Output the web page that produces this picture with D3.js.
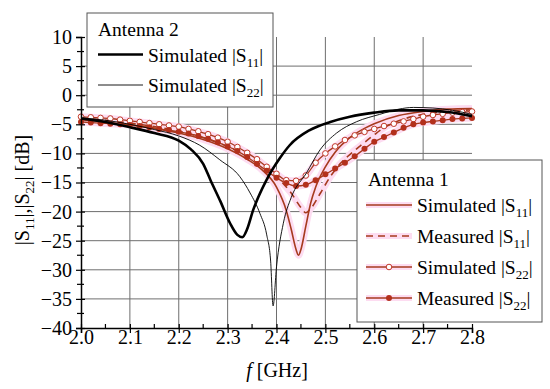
<!DOCTYPE html>
<html>
<head>
<meta charset="utf-8">
<script src="https://cdn.jsdelivr.net/npm/d3@7"></script>
<style>
  body { margin: 0; background: #fff; }
  text { font-family: "Liberation Serif", "Times New Roman", serif; fill: #000; }
</style>
</head>
<body>
<svg id="chart" width="550" height="389"></svg>
<script>
// ----- data -----
const xTicks = [2.0, 2.1, 2.2, 2.3, 2.4, 2.5, 2.6, 2.7, 2.8];
const yTicks = [10, 5, 0, -5, -10, -15, -20, -25, -30, -35, -40];

// Antenna 2, simulated |S11| (thick black)
const a2s11F = [2.00, 2.05, 2.10, 2.15, 2.20, 2.225, 2.25, 2.265, 2.285, 2.305, 2.32, 2.33, 2.34, 2.352, 2.38, 2.407, 2.427, 2.468, 2.51, 2.55, 2.60, 2.65, 2.70, 2.75, 2.80];
const a2s11 = [-4.0, -4.6, -5.5, -6.5, -7.8, -9.3, -11.8, -14.6, -18.2, -22.0, -24.0, -24.4, -23.0, -19.8, -14.5, -10.8, -8.6, -6.0, -4.6, -3.7, -3.0, -2.6, -2.6, -2.9, -3.6];

// Antenna 2, simulated |S22| (thin black)
const a2s22F = [2.00, 2.05, 2.10, 2.15, 2.20, 2.243, 2.284, 2.325, 2.346, 2.366, 2.38, 2.388, 2.393, 2.40, 2.414, 2.43, 2.461, 2.489, 2.523, 2.564, 2.611, 2.65, 2.68, 2.72, 2.76, 2.80];
const a2s22 = [-3.9, -4.3, -5.0, -5.9, -7.0, -8.6, -11.1, -14.0, -16.8, -20.3, -24.0, -28.5, -36.2, -29.5, -22.0, -17.6, -13.4, -9.4, -6.5, -4.55, -3.3, -2.4, -2.1, -2.2, -2.6, -3.3];

// Antenna 1, simulated |S11| (solid red)
const a1s11F = [2.00, 2.05, 2.10, 2.15, 2.20, 2.25, 2.30, 2.34, 2.37, 2.40, 2.42, 2.43, 2.44, 2.445, 2.45, 2.46, 2.47, 2.48, 2.50, 2.52, 2.55, 2.58, 2.60, 2.65, 2.70, 2.75, 2.80];
const a1s11 = [-4.2, -4.6, -5.1, -5.7, -6.5, -7.6, -9.2, -11.0, -12.8, -15.8, -19.8, -23.0, -26.5, -27.5, -26.5, -22.5, -18.5, -15.8, -12.3, -9.8, -7.3, -5.7, -4.9, -3.5, -2.8, -2.4, -2.3];

// Antenna 1, measured |S11| (dashed red)
const a1m11F = [2.00, 2.05, 2.10, 2.15, 2.20, 2.25, 2.30, 2.35, 2.40, 2.43, 2.45, 2.46, 2.47, 2.49, 2.51, 2.53, 2.55, 2.57, 2.60, 2.62, 2.65, 2.70, 2.75, 2.80];
const a1m11 = [-4.0, -4.3, -4.8, -5.4, -6.2, -7.3, -8.8, -11.0, -14.0, -16.8, -19.3, -20.2, -19.5, -16.8, -14.0, -11.8, -10.2, -8.8, -6.8, -5.6, -4.4, -3.3, -2.8, -2.5];

// Antenna 1, |S22| curves sampled every 0.02 GHz (markers)
const s22F = [2.00, 2.02, 2.04, 2.06, 2.08, 2.10, 2.12, 2.14, 2.16, 2.18, 2.20, 2.22, 2.24, 2.26, 2.28, 2.30, 2.32, 2.34, 2.36, 2.38, 2.40, 2.42, 2.44, 2.46, 2.48, 2.50, 2.52, 2.54, 2.56, 2.58, 2.60, 2.62, 2.64, 2.66, 2.68, 2.70, 2.72, 2.74, 2.76, 2.78, 2.80];
const a1s22 = [-3.7, -3.8, -3.9, -4.0, -4.2, -4.4, -4.6, -4.8, -5.0, -5.2, -5.4, -5.8, -6.2, -6.7, -7.3, -8.0, -8.9, -9.9, -11.0, -12.3, -13.5, -14.6, -14.7, -13.8, -11.6, -10.0, -8.8, -7.7, -6.9, -6.3, -5.8, -5.3, -4.9, -4.5, -4.1, -3.7, -3.4, -3.2, -3.0, -2.9, -2.8];
const a1m22 = [-4.6, -4.7, -4.8, -4.9, -5.0, -5.1, -5.3, -5.5, -5.8, -6.0, -6.3, -6.6, -7.0, -7.5, -8.1, -8.8, -9.6, -10.6, -11.8, -13.0, -14.2, -15.1, -15.6, -15.4, -14.6, -13.6, -12.6, -11.6, -10.5, -9.2, -8.0, -7.2, -6.4, -5.6, -5.0, -4.7, -4.5, -4.3, -4.1, -4.0, -3.9];

// ----- layout -----
const svg = d3.select("#chart");
const x = d3.scaleLinear().domain([2.0, 2.8]).range([81, 472]);
const y = d3.scaleLinear().domain([-40, 10]).range([328, 37]);
const red = "#a63a1e";
const halo = "#fddcf1";
const fs = 20;

const zip = (fs, vs) => fs.map((f, i) => ({ f: f, v: vs[i] }));
const line = d3.line().x(d => x(d.f)).y(d => y(d.v)).curve(d3.curveMonotoneX);

// Grid
const grid = svg.append("g").attr("stroke", "#6e6e6e").attr("stroke-width", 1);
grid.selectAll("line.v")
    .data(xTicks.slice(1, -1))
    .enter().append("line")
    .attr("x1", d => x(d)).attr("x2", d => x(d))
    .attr("y1", y(10)).attr("y2", y(-40));
grid.selectAll("line.h")
    .data(yTicks.slice(1, -1))
    .enter().append("line")
    .attr("x1", x(2.0)).attr("x2", x(2.8))
    .attr("y1", d => y(d)).attr("y2", d => y(d));

// Pink halo under Antenna 1 curves
const redSeries = [zip(a1s11F, a1s11), zip(a1m11F, a1m11), zip(s22F, a1s22), zip(s22F, a1m22)];
svg.append("g")
    .selectAll("path")
    .data(redSeries)
    .enter().append("path")
    .attr("d", line)
    .attr("fill", "none")
    .attr("stroke", halo)
    .attr("stroke-width", 7)
    .attr("stroke-linejoin", "round");

// Antenna 1 curves
svg.append("path").attr("d", line(zip(a1s11F, a1s11)))
    .attr("fill", "none").attr("stroke", red).attr("stroke-width", 1.6);
svg.append("path").attr("d", line(zip(a1m11F, a1m11)))
    .attr("fill", "none").attr("stroke", red).attr("stroke-width", 1.6)
    .attr("stroke-dasharray", "7,5");
svg.append("path").attr("d", line(zip(s22F, a1s22)))
    .attr("fill", "none").attr("stroke", red).attr("stroke-width", 1.3);
svg.append("path").attr("d", line(zip(s22F, a1m22)))
    .attr("fill", "none").attr("stroke", red).attr("stroke-width", 1.3);

svg.append("g").selectAll("circle")
    .data(zip(s22F, a1s22))
    .enter().append("circle")
    .attr("cx", d => x(d.f)).attr("cy", d => y(d.v)).attr("r", 2.8)
    .attr("fill", "#fff").attr("stroke", "#c0392b").attr("stroke-width", 1);
svg.append("g").selectAll("circle")
    .data(zip(s22F, a1m22))
    .enter().append("circle")
    .attr("cx", d => x(d.f)).attr("cy", d => y(d.v)).attr("r", 3)
    .attr("fill", "#b3301c");

// Antenna 2 curves
svg.append("path").attr("d", line(zip(a2s22F, a2s22)))
    .attr("fill", "none").attr("stroke", "#000").attr("stroke-width", 0.9);
svg.append("path").attr("d", line(zip(a2s11F, a2s11)))
    .attr("fill", "none").attr("stroke", "#000").attr("stroke-width", 2.6);

// Axes
const xAxis = svg.append("g").attr("transform", `translate(0,${y(-40)})`)
    .call(d3.axisBottom(x).tickValues(xTicks).tickFormat(d3.format(".1f")).tickSize(5).tickPadding(4));
const yAxis = svg.append("g").attr("transform", `translate(${x(2.0)},0)`)
    .call(d3.axisLeft(y).tickValues(yTicks).tickFormat(d => d < 0 ? "\u2212" + Math.abs(d) : d).tickSize(5).tickPadding(4));
[xAxis, yAxis].forEach(a => {
    a.attr("font-family", null).attr("font-size", null);
    a.select(".domain").attr("stroke", "#000").attr("stroke-width", 1.5);
    a.selectAll(".tick line").attr("stroke", "#000").attr("stroke-width", 1.2);
    a.selectAll("text").attr("font-size", fs);
});
xAxis.selectAll(".tick line").attr("y1", -4);
xAxis.selectAll(".tick text").attr("y", 2);
yAxis.selectAll(".tick line").attr("x1", 4);

// Minor ticks
svg.append("g").selectAll("line")
    .data([2.05, 2.15, 2.25, 2.35, 2.45, 2.55, 2.65, 2.75])
    .enter().append("line")
    .attr("x1", d => x(d)).attr("x2", d => x(d))
    .attr("y1", y(-40) - 4).attr("y2", y(-40))
    .attr("stroke", "#000").attr("stroke-width", 1.2);
svg.append("g").selectAll("line")
    .data([7.5, 2.5, -2.5, -7.5, -12.5, -17.5, -22.5, -27.5, -32.5, -37.5])
    .enter().append("line")
    .attr("x1", x(2.0) - 4).attr("x2", x(2.0) + 3)
    .attr("y1", d => y(d)).attr("y2", d => y(d))
    .attr("stroke", "#000").attr("stroke-width", 1.2);

// Axis titles
const xt = svg.append("text").attr("x", 277).attr("y", 377)
    .attr("text-anchor", "middle").attr("font-size", fs);
xt.append("tspan").attr("font-style", "italic").text("f");
xt.append("tspan").text(" [GHz]");

const yt = svg.append("text")
    .attr("transform", "translate(29,190) rotate(-90)")
    .attr("text-anchor", "middle").attr("font-size", fs);
function sPart(t, sub) {
    t.append("tspan").text("|S");
    t.append("tspan").attr("font-size", 13).attr("dy", 5).text(sub);
    t.append("tspan").attr("dy", -5).text("|");
}
sPart(yt, "11");
yt.append("tspan").text(",");
sPart(yt, "22");
yt.append("tspan").text(" [dB]");

// Legends
function legendLabel(g, lx, ly, word, sub) {
    const t = g.append("text").attr("x", lx).attr("y", ly).attr("font-size", 19.5);
    t.append("tspan").text(word + " |S");
    t.append("tspan").attr("font-size", 13).attr("dy", 5).text(sub);
    t.append("tspan").attr("dy", -5).text("|");
}

const leg2 = svg.append("g");
leg2.append("rect").attr("x", 87).attr("y", 13).attr("width", 186).attr("height", 94)
    .attr("fill", "#fff").attr("stroke", "#555").attr("stroke-width", 1);
leg2.append("text").attr("x", 98).attr("y", 36).attr("font-size", 19.5).text("Antenna 2");
leg2.append("line").attr("x1", 98).attr("x2", 143).attr("y1", 54.5).attr("y2", 54.5)
    .attr("stroke", "#000").attr("stroke-width", 2.6);
legendLabel(leg2, 148, 61.5, "Simulated", "11");
leg2.append("line").attr("x1", 98).attr("x2", 143).attr("y1", 85).attr("y2", 85)
    .attr("stroke", "#000").attr("stroke-width", 0.9);
legendLabel(leg2, 148, 91.5, "Simulated", "22");

const leg1 = svg.append("g");
leg1.append("rect").attr("x", 357).attr("y", 160).attr("width", 185).attr("height", 162)
    .attr("fill", "#fff").attr("stroke", "#555").attr("stroke-width", 1);
leg1.append("text").attr("x", 368).attr("y", 186).attr("font-size", 19.5).text("Antenna 1");
const leg1Rows = [
    { word: "Simulated", sub: "11", dash: null, mark: null, ly: 205 },
    { word: "Measured", sub: "11", dash: "7,5", mark: null, ly: 236 },
    { word: "Simulated", sub: "22", dash: null, mark: "open", ly: 267 },
    { word: "Measured", sub: "22", dash: null, mark: "fill", ly: 298 }
];
leg1Rows.forEach(r => {
    leg1.append("line").attr("x1", 366).attr("x2", 412).attr("y1", r.ly).attr("y2", r.ly)
        .attr("stroke", halo).attr("stroke-width", 6);
    leg1.append("line").attr("x1", 366).attr("x2", 412).attr("y1", r.ly).attr("y2", r.ly)
        .attr("stroke", red).attr("stroke-width", 1.6)
        .attr("stroke-dasharray", r.dash);
    if (r.mark === "open") {
        leg1.append("circle").attr("cx", 389).attr("cy", r.ly).attr("r", 2.8)
            .attr("fill", "#fff").attr("stroke", "#c0392b");
    } else if (r.mark === "fill") {
        leg1.append("circle").attr("cx", 389).attr("cy", r.ly).attr("r", 3).attr("fill", "#b3301c");
    }
    legendLabel(leg1, 417, r.ly + 7, r.word, r.sub);
});
</script>
</body>
</html>
